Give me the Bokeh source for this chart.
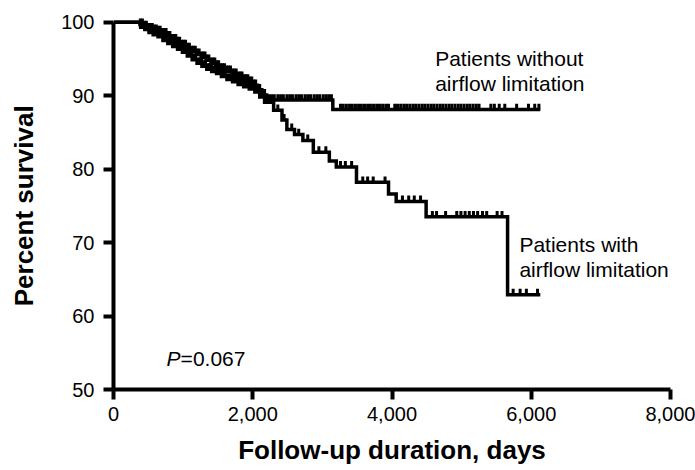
import numpy as np
from bokeh.plotting import figure
from bokeh.models import Range1d, FixedTicker, NumeralTickFormatter
from bokeh.core.properties import value
from bokeh.embed import file_html
from bokeh.resources import INLINE

x_ticks = [0, 2000, 4000, 6000, 8000]
y_ticks = [50, 60, 70, 80, 90, 100]

# Patients without airflow limitation (Kaplan-Meier steps, days / % survival)
without_time = [0, 380, 440, 500, 560, 630, 700, 770, 840, 910, 980, 1050, 1120, 1190, 1260,
                1330, 1400, 1470, 1540, 1620, 1700, 1780, 1860, 1940, 2010, 2070, 2130, 2200, 3150]
without_surv = [100, 99.7, 99.4, 99.1, 98.9, 98.7, 98.4, 98.0, 97.6, 97.2, 96.8, 96.4, 96.0, 95.6,
                95.2, 94.8, 94.4, 94.0, 93.6, 93.3, 92.9, 92.5, 92.1, 91.8, 91.4, 90.8, 90.1, 89.4,
                88.1]
without_end = 6130
without_censor = [385, 415, 445, 472, 500, 530, 557, 585, 615, 642, 670, 700, 726, 755, 782, 810,
                  840, 866, 895, 922, 950, 980, 1006, 1035, 1062, 1090, 1120, 1146, 1175, 1202,
                  1230, 1260, 1286, 1315, 1342, 1370, 1400, 1426, 1455, 1482, 1510, 1540, 1566,
                  1595, 1622, 1650, 1680, 1706, 1735, 1762, 1790, 1820, 1846, 1875, 1902, 1930,
                  1960, 1986, 2015, 2042, 2070, 2100, 2140, 2170, 2230, 2270, 2310, 2360, 2400,
                  2440, 2490, 2530, 2570, 2620, 2660, 2700, 2750, 2790, 2830, 2880, 2920, 2960,
                  3010, 3050, 3090, 3130, 3260, 3300, 3345, 3390, 3430, 3475, 3520, 3560, 3605,
                  3650, 3690, 3735, 3780, 3820, 3865, 3910, 3950, 4040, 4080, 4125, 4170, 4210,
                  4255, 4300, 4340, 4385, 4430, 4470, 4515, 4560, 4600, 4645, 4690, 4730, 4775,
                  4820, 4860, 4905, 4950, 4990, 5035, 5080, 5120, 5165, 5210, 5250, 5420, 5470,
                  5540, 5620, 5790, 5960, 6050, 6110]

# Patients with airflow limitation
with_time = [0, 390, 450, 510, 570, 640, 710, 780, 850, 920, 990, 1060, 1130, 1200, 1270, 1340,
             1410, 1480, 1550, 1630, 1710, 1790, 1870, 1950, 2030, 2100, 2170, 2300, 2420, 2490,
             2600, 2720, 2870, 3100, 3200, 3490, 3950, 4060, 4490, 5660]
with_surv = [100, 99.3, 99.0, 98.6, 98.3, 98.0, 97.5, 97.1, 96.7, 96.3, 95.9, 95.4, 94.9, 94.4,
             94.0, 93.6, 93.3, 93.0, 92.6, 92.2, 91.9, 91.5, 91.2, 90.9, 90.5, 89.8, 89.1, 88.0,
             86.7, 85.4, 84.7, 83.9, 82.3, 81.1, 80.3, 78.2, 76.6, 75.6, 73.5, 62.9]
with_end = 6130
with_censor = [395, 425, 456, 482, 512, 540, 567, 597, 622, 652, 680, 707, 737, 762, 792, 820,
               847, 877, 902, 932, 960, 987, 1017, 1042, 1072, 1100, 1127, 1157, 1182, 1212,
               1240, 1267, 1297, 1322, 1352, 1380, 1407, 1437, 1462, 1492, 1520, 1547, 1577,
               1602, 1632, 1660, 1687, 1717, 1742, 1772, 1800, 1827, 1857, 1882, 1912, 1940,
               1967, 1997, 2022, 2052, 2080, 2120, 2150, 2200, 2260, 2360, 2450, 2560, 2660,
               2790, 2950, 3050, 3260, 3330, 3420, 3580, 3650, 3730, 3900, 4150, 4240, 4320,
               4410, 4580, 4640, 4770, 4930, 4990, 5050, 5110, 5170, 5230, 5300, 5360, 5510,
               5580, 5740, 5840, 5930, 6090]

FONT = "Liberation Sans"

p = figure(width=695, height=470, x_range=Range1d(0, 8000), y_range=Range1d(50, 102.95),
           output_backend="svg", toolbar_location=None,
           min_border_left=113, min_border_right=25, min_border_top=0, min_border_bottom=81)
p.grid.visible = False
p.outline_line_color = None
p.background_fill_color = "white"
p.border_fill_color = "white"

for ax in (p.xaxis[0], p.yaxis[0]):
    ax.axis_line_width = 4
    ax.axis_line_color = "black"
    ax.major_tick_line_width = 4
    ax.major_tick_line_color = "black"
    ax.major_tick_out = 10
    ax.major_tick_in = 0
    ax.minor_tick_line_color = None
    ax.major_label_text_font = FONT
    ax.major_label_text_font_size = "20px"
    ax.major_label_text_color = "black"
    ax.major_label_text_line_height = 1.0
    ax.axis_label_text_font = FONT
    ax.axis_label_text_font_size = "26px"
    ax.axis_label_text_font_style = "bold"
    ax.axis_label_text_color = "black"
    ax.axis_label_text_line_height = 1.0

p.xaxis[0].ticker = FixedTicker(ticks=x_ticks)
p.xaxis[0].formatter = NumeralTickFormatter(format="0,0")
p.xaxis[0].bounds = (0, 8000)
p.xaxis[0].major_label_standoff = 7
p.xaxis[0].axis_label = "Follow-up duration, days"
p.xaxis[0].axis_label_standoff = 11

p.yaxis[0].ticker = FixedTicker(ticks=y_ticks)
p.yaxis[0].bounds = (50, 100)
p.yaxis[0].major_label_standoff = 9
# trailing no-break spaces centre the visible title on the 50-100 span of the axis
p.yaxis[0].axis_label = "Percent survival\u00a0\u00a0\u00a0"
p.yaxis[0].axis_label_standoff = 19


def surv_at(times, survs, t):
    idx = np.searchsorted(np.array(times), np.array(t), side="right") - 1
    return np.array(survs)[idx]


for times, survs, end, cens in ((without_time, without_surv, without_end, without_censor),
                                (with_time, with_surv, with_end, with_censor)):
    p.step(x=times + [end], y=survs + [survs[-1]], mode="after",
           line_width=3.5, line_color="black", line_join="miter")
    cy = surv_at(times, survs, cens)
    p.segment(x0=cens, y0=cy, x1=cens, y1=cy + 0.8, line_width=3, line_color="black")

p.text(x=[4620, 4620], y=[95.0, 91.6], text=["Patients without", "airflow limitation"],
       text_font=value(FONT), text_font_size=value("21px"), text_color="black",
       text_baseline="alphabetic", text_align="left")
p.text(x=[5830, 5830], y=[69.8, 66.4], text=["Patients with", "airflow limitation"],
       text_font=value(FONT), text_font_size=value("21px"), text_color="black",
       text_baseline="alphabetic", text_align="left")
p.text(x=[763], y=[54.2], text=["P"], text_font=value(FONT), text_font_size=value("21px"),
       text_font_style="italic", text_color="black", text_baseline="alphabetic", text_align="left")
p.text(x=[763], y=[54.2], text=["=0.067"], x_offset=14, text_font=value(FONT),
       text_font_size=value("21px"), text_color="black", text_baseline="alphabetic",
       text_align="left")

open("out.html", "w").write(file_html(p, INLINE))
